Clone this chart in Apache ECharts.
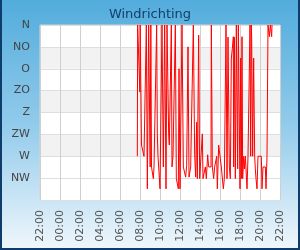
<!DOCTYPE html>
<html>
<head>
<meta charset="utf-8">
<script src="https://cdn.jsdelivr.net/npm/echarts@6/dist/echarts.min.js"></script>
<style>
  html, body { margin: 0; padding: 0; }
  #chart { width: 300px; height: 250px; }
</style>
</head>
<body>
<div id="chart"></div>
<script>
// tick labels
const dirLabels = ['N', 'NO', 'O', 'ZO', 'Z', 'ZW', 'W', 'NW', ''];
const timeLabels = ['22:00', '00:00', '02:00', '04:00', '06:00', '08:00', '10:00',
  '12:00', '14:00', '16:00', '18:00', '20:00', '22:00'];

// measurement times (HH:MM) and wind direction in degrees
const times = [
  '07:44', '07:46', '07:56', '07:59', '08:01', '08:06', '08:09', '08:18', '08:24', '08:38',
  '08:44', '08:52', '08:56', '09:01', '09:05', '09:09', '09:16', '09:20', '09:24', '09:36',
  '09:40', '09:44', '09:48', '10:00', '10:12', '10:20', '10:28', '10:36', '10:42', '10:52',
  '10:56', '11:02', '11:08', '11:12', '11:18', '11:32', '11:38', '11:44', '11:50', '11:54',
  '12:00', '12:08', '12:12', '12:16', '12:20', '12:24', '12:34', '12:40', '12:48', '12:54',
  '13:00', '13:04', '13:12', '13:20', '13:28', '13:34', '13:40', '13:44', '13:52', '13:58',
  '14:08', '14:14', '14:18', '14:28', '14:32', '14:38', '14:46', '14:52', '15:00', '15:06',
  '15:08', '15:14', '15:22', '15:28', '15:36', '15:40', '15:44', '15:52', '16:02', '16:08',
  '16:20', '16:26', '16:32', '16:36', '16:42', '16:48', '16:56', '17:02', '17:08', '17:14',
  '17:20', '17:22', '17:26', '17:32', '17:38', '17:42', '17:46', '17:50', '17:56', '18:00',
  '18:04', '18:08', '18:12', '18:16', '18:22', '18:26', '18:32', '18:42', '18:48', '18:56',
  '19:00', '19:04', '19:08', '19:10', '19:16', '19:22', '19:28', '19:32', '19:36', '19:42',
  '19:48', '20:08', '20:12', '20:18', '20:32', '20:36', '20:42', '20:48', '20:56', '21:02',
  '21:06', '21:10', '21:12'
];
const directions = [
  270, 0, 0, 138, 0, 0, 247, 247, 270, 0,
  337, 0, 0, 292, 0, 292, 292, 316, 292, 292,
  0, 224, 270, 337, 0, 292, 0, 337, 0, 226,
  247, 247, 0, 292, 270, 0, 316, 316, 337, 90,
  337, 337, 0, 0, 292, 292, 313, 289, 45, 313,
  313, 292, 292, 0, 267, 313, 200, 316, 21, 316,
  316, 224, 316, 316, 292, 316, 267, 292, 292, 292,
  0, 292, 316, 292, 292, 270, 337, 247, 247, 292,
  337, 316, 316, 0, 316, 25, 292, 316, 68, 49,
  24, 292, 25, 316, 0, 0, 296, 0, 0, 337,
  68, 316, 24, 316, 270, 296, 270, 337, 270, 270,
  0, 270, 0, 24, 270, 68, 270, 296, 316, 337,
  270, 270, 337, 292, 292, 337, 270, 0, 24, 0,
  0, 24, 0
];

const toMinutes = (t) => {
  const [h, m] = t.split(':').map(Number);
  return h * 60 + m;
};

const chart = echarts.init(document.getElementById('chart'));

const option = {
  animation: false,
  backgroundColor: new echarts.graphic.LinearGradient(0, 0, 0, 1, [
    { offset: 0, color: '#52acdc' },
    { offset: 0.5, color: '#92cbeb' },
    { offset: 1, color: '#f0f7fc' },
  ]),
  textStyle: { fontFamily: 'DejaVu Sans' },
  title: {
    text: 'Windrichting',
    left: 'center',
    top: 3,
    textStyle: { fontSize: 13, fontWeight: 'normal', color: '#123f6c', fontFamily: 'DejaVu Sans' },
  },
  graphic: [
    {
      // dark frame on left, bottom and right
      type: 'polyline',
      shape: { points: [[1, 0], [1, 249], [299, 249], [299, 0]] },
      style: { fill: 'none', stroke: '#0e3d6b', lineWidth: 2 },
      silent: true,
      z: 100,
    },
  ],
  grid: {
    left: 40,
    right: 20,
    top: 25,
    bottom: 50,
    show: true,
    backgroundColor: '#fff',
    borderColor: '#d4d4d4',
    borderWidth: 1,
  },
  xAxis: {
    type: 'value',
    min: -120,
    max: 1320,
    interval: 120,
    axisLine: { show: false },
    axisTick: { show: false },
    axisLabel: {
      rotate: 90,
      margin: 10,
      fontSize: 11,
      color: '#555',
      showMinLabel: true,
      showMaxLabel: true,
      formatter: (v) => timeLabels[Math.round((v + 120) / 120)],
    },
    splitLine: { show: true, lineStyle: { color: '#cfcfcf', width: 1 } },
  },
  yAxis: {
    type: 'value',
    inverse: true,
    min: 0,
    max: 360,
    interval: 45,
    axisLine: { show: false },
    axisTick: { show: false },
    axisLabel: {
      margin: 10,
      fontSize: 11,
      color: '#444',
      formatter: (v) => dirLabels[Math.round(v / 45)],
    },
    splitLine: { show: true, lineStyle: { color: '#dedede', width: 1 } },
    splitArea: {
      show: true,
      areaStyle: { color: ['#ffffff', '#f2f2f2', '#ffffff', '#f2f2f2', '#ffffff', '#f2f2f2', '#ffffff', '#ffffff'] },
    },
  },
  series: [
    {
      type: 'line',
      data: times.map((t, i) => [toMinutes(t), directions[i]]),
      showSymbol: false,
      lineStyle: { color: '#ff0000', width: 1 },
      itemStyle: { color: '#ff0000' },
    },
  ],
};

chart.setOption(option);
</script>
</body>
</html>
